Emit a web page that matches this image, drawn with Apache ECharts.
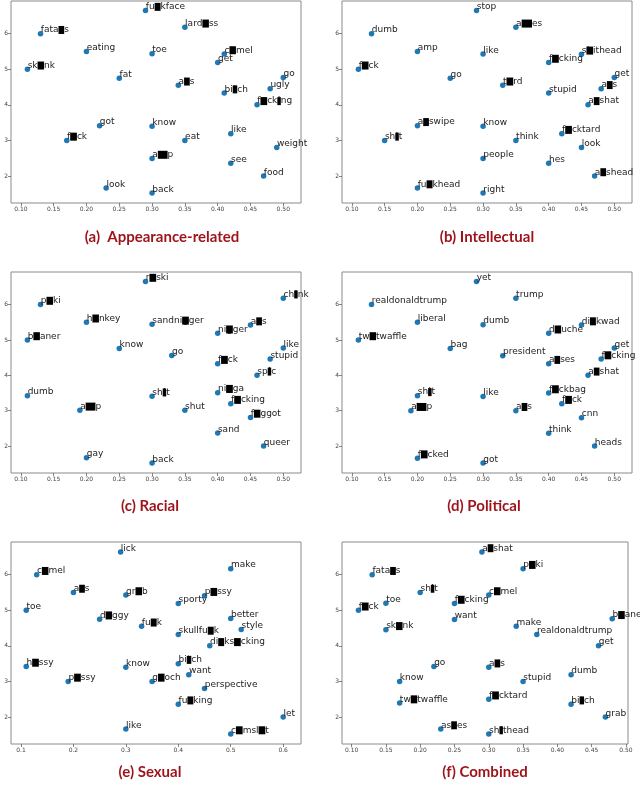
<!DOCTYPE html>
<html>
<head>
<meta charset="utf-8">
<script src="https://cdn.jsdelivr.net/npm/echarts@6/dist/echarts.min.js"></script>
<style>
html,body{margin:0;padding:0;background:#fff;}
#chart{width:640px;height:787px;}
</style>
</head>
<body>
<div id="chart"></div>
<script>
// Censored letters are written in [brackets]; they are drawn under a black box.
const titles = ['(a)  Appearance-related', '(b) Intellectual', '(c) Racial', '(d) Political', '(e) Sexual', '(f) Combined'];

const wordsA = ['fu[c]kface','fata[s]s','lard[a]ss','eating','toe','c[a]mel','get','sk[a]nk','fat','go','a[s]s','ugly','bi[t]ch','f[u]ck[i]ng','got','know','like','f[u]ck','eat','weight','a[m]p','see','food','look','back'];
const xA = [0.29,0.13,0.35,0.20,0.30,0.41,0.40,0.11,0.25,0.50,0.34,0.48,0.41,0.46,0.22,0.30,0.42,0.17,0.35,0.49,0.30,0.42,0.47,0.23,0.30];
const yA = [6.65,6.00,6.18,5.50,5.44,5.43,5.19,5.00,4.75,4.77,4.55,4.45,4.33,4.00,3.41,3.40,3.19,3.00,3.00,2.80,2.49,2.36,2.00,1.66,1.52];

const wordsB = ['stop','dumb','a[ss]es','amp','like','s[h]ithead','f[u]cking','f[u]ck','go','get','t[u]rd','a[s]s','stupid','a[s]shat','a[s]swipe','sh[i]t','know','f[u]cktard','think','look','people','hes','a[s]shead','fu[c]khead','right'];
const xB = [0.29,0.13,0.35,0.20,0.30,0.45,0.40,0.11,0.25,0.50,0.33,0.48,0.40,0.46,0.20,0.15,0.30,0.42,0.35,0.45,0.30,0.40,0.47,0.20,0.30];
const yB = [6.65,6.00,6.18,5.50,5.43,5.42,5.19,5.00,4.75,4.77,4.55,4.45,4.33,4.00,3.41,3.00,3.40,3.19,3.00,2.80,2.49,2.36,2.00,1.66,1.52];

const wordsC = ['r[u]ski','p[a]ki','ch[i]nk','h[o]nkey','sandni[g]ger','a[s]s','ni[g]ger','b[e]aner','know','like','go','stupid','f[u]ck','sp[i]c','dumb','ni[g]ga','sh[i]t','f[u]cking','a[m]p','shut','f[a]ggot','sand','queer','gay','back'];
const xC = [0.29,0.13,0.50,0.20,0.30,0.45,0.40,0.11,0.25,0.50,0.33,0.48,0.40,0.46,0.11,0.40,0.30,0.42,0.19,0.35,0.45,0.40,0.47,0.20,0.30];
const yC = [6.65,6.00,6.18,5.50,5.44,5.42,5.19,5.00,4.76,4.77,4.56,4.46,4.33,4.00,3.42,3.51,3.41,3.20,3.01,3.01,2.81,2.37,2.00,1.67,1.52];

const wordsD = ['yet','realdonaldtrump','trump','liberal','dumb','di[c]kwad','d[o]uche','tw[a]twaffle','bag','get','president','f[u]cking','a[s]ses','a[s]shat','sh[i]t','like','f[u]ckbag','f[u]ck','a[m]p','a[s]s','cnn','think','heads','f[u]cked','got'];
const xD = [0.29,0.13,0.35,0.20,0.30,0.45,0.40,0.11,0.25,0.50,0.33,0.48,0.40,0.46,0.20,0.30,0.40,0.42,0.19,0.35,0.45,0.40,0.47,0.20,0.30];
const yD = [6.65,6.00,6.18,5.50,5.43,5.42,5.19,5.00,4.76,4.77,4.55,4.46,4.33,4.00,3.42,3.40,3.50,3.20,3.00,3.00,2.80,2.36,2.00,1.66,1.52];

const wordsE = ['lick','c[a]mel','make','a[s]s','gr[a]b','p[u]ssy','sporty','toe','d[o]ggy','better','fu[c]k','style','skullfu[c]k','di[c]ks[u]cking','h[u]ssy','bi[t]ch','know','want','p[u]ssy','g[o]och','perspective','fu[c]king','let','like','c[u]msl[u]t'];
const xE = [0.29,0.13,0.50,0.20,0.30,0.45,0.40,0.11,0.25,0.50,0.33,0.52,0.40,0.46,0.11,0.40,0.30,0.42,0.19,0.35,0.45,0.40,0.60,0.30,0.50];
const yE = [6.64,6.00,6.17,5.50,5.43,5.41,5.19,5.00,4.75,4.77,4.55,4.46,4.32,4.00,3.42,3.50,3.40,3.19,3.00,3.00,2.80,2.36,2.00,1.66,1.52];

const wordsF = ['a[s]shat','p[a]ki','fata[s]s','sh[i]t','c[a]mel','f[u]cking','toe','f[u]ck','want','make','sk[a]nk','realdonaldtrump','b[e]aner','get','go','a[s]s','know','stupid','dumb','tw[a]twaffle','f[u]cktard','bi[t]ch','grab','as[s]es','sh[i]thead'];
const xF = [0.29,0.35,0.13,0.20,0.30,0.25,0.15,0.11,0.25,0.34,0.15,0.37,0.48,0.46,0.22,0.30,0.17,0.35,0.42,0.17,0.30,0.42,0.47,0.23,0.30];
const yF = [6.64,6.17,6.00,5.50,5.43,5.19,5.20,5.00,4.74,4.55,4.45,4.32,4.76,4.00,3.42,3.40,3.00,3.00,3.19,2.39,2.50,2.36,2.00,1.66,1.52];

const xTicks = [0.10,0.15,0.20,0.25,0.30,0.35,0.40,0.45,0.50];
const xTicksE = [0.1,0.2,0.3,0.4,0.5,0.6];
const yTicks = [2,3,4,5,6];

const panels = [
  {w: wordsA, x: xA, y: yA, grid: {left: 11, top: 1, width: 290, height: 202}, xr: [0.085, 0.527], xt: xTicks, dec: 2, t: [162, 237]},
  {w: wordsB, x: xB, y: yB, grid: {left: 342, top: 1, width: 290, height: 202}, xr: [0.085, 0.527], xt: xTicks, dec: 2, t: [487, 237]},
  {w: wordsC, x: xC, y: yC, grid: {left: 11, top: 272, width: 290, height: 201}, xr: [0.085, 0.527], xt: xTicks, dec: 2, t: [150, 506]},
  {w: wordsD, x: xD, y: yD, grid: {left: 342, top: 272, width: 290, height: 201}, xr: [0.085, 0.527], xt: xTicks, dec: 2, t: [484, 506]},
  {w: wordsE, x: xE, y: yE, grid: {left: 11, top: 542, width: 290, height: 202}, xr: [0.081, 0.634], xt: xTicksE, dec: 1, t: [150, 772]},
  {w: wordsF, x: xF, y: yF, grid: {left: 342, top: 542, width: 286, height: 202}, xr: [0.086, 0.503], xt: xTicks, dec: 2, t: [485, 772]}
];

function toRich(s) { return s.replace(/\[([^\]]+)\]/g, '{k|$1}'); }

const axisCommon = {
  axisLine: {show: false},
  splitLine: {show: false},
  axisTick: {show: true, inside: false, length: 3, lineStyle: {color: '#666', width: 0.8}},
  axisLabel: {fontFamily: 'DejaVu Sans', fontSize: 6, color: '#444', margin: 3}
};

const option = {
  animation: false,
  backgroundColor: '#fff',
  grid: [], xAxis: [], yAxis: [], series: [], graphic: []
};

panels.forEach((p, i) => {
  option.grid.push(Object.assign({show: true, borderColor: '#8a8a8a', borderWidth: 1, backgroundColor: '#fff'}, p.grid));
  option.xAxis.push({
    type: 'value', gridIndex: i, min: p.xr[0], max: p.xr[1],
    axisLine: axisCommon.axisLine, splitLine: axisCommon.splitLine,
    axisTick: Object.assign({customValues: p.xt}, axisCommon.axisTick),
    axisLabel: Object.assign({customValues: p.xt, formatter: v => Number(v).toFixed(p.dec)}, axisCommon.axisLabel)
  });
  option.yAxis.push({
    type: 'value', gridIndex: i, min: 1.24, max: 6.92,
    axisLine: axisCommon.axisLine, splitLine: axisCommon.splitLine,
    axisTick: Object.assign({customValues: yTicks}, axisCommon.axisTick),
    axisLabel: Object.assign({customValues: yTicks, formatter: v => String(Math.round(v))}, axisCommon.axisLabel)
  });
  option.series.push({
    type: 'scatter', xAxisIndex: i, yAxisIndex: i,
    symbolSize: 5.5,
    itemStyle: {color: '#1f77b4', opacity: 1},
    data: p.w.map((w, j) => ({value: [p.x[j], p.y[j]], name: w})),
    label: {
      show: true,
      formatter: prm => toRich(prm.name),
      position: [3, 4],
      align: 'left', verticalAlign: 'bottom',
      fontFamily: 'DejaVu Sans', fontSize: 9, lineHeight: 10, color: '#222',
      rich: {
        k: {backgroundColor: '#000', color: '#000', fontFamily: 'DejaVu Sans', fontSize: 9, lineHeight: 10, height: 8, padding: [0, 0.5]}
      }
    },
    emphasis: {disabled: true}
  });
  option.graphic.push({
    type: 'text', x: p.t[0], y: p.t[1],
    style: {text: titles[i], fill: '#9e1219', font: 'bold 15px Lato', textAlign: 'center', textVerticalAlign: 'middle'}
  });
});

const chart = echarts.init(document.getElementById('chart'), null, {renderer: 'canvas'});
chart.setOption(option);
</script>
</body>
</html>
